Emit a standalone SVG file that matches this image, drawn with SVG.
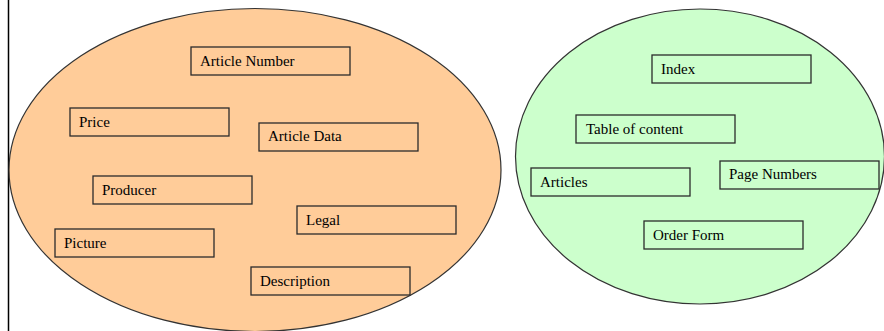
<svg xmlns="http://www.w3.org/2000/svg" width="884" height="331" viewBox="0 0 884 331">
  <style>
    .zone { stroke: #333; stroke-width: 1.2; }
    .box rect { stroke: #2b2b2b; stroke-width: 1.3; }
    .left rect { fill: #FFCC99; }
    .right rect { fill: #CCFFCC; }
  </style>
  <rect x="0" y="0" width="884" height="331" fill="#fff"/>
  <!-- page margin rule -->
  <line x1="8.5" y1="0" x2="8.5" y2="331" stroke="#000" stroke-width="1.5"/>

  <!-- content zones -->
  <ellipse id="article-zone" class="zone" cx="255" cy="170" rx="246" ry="161.5" fill="#FFCC99"/>
  <ellipse id="catalog-zone" class="zone" cx="700" cy="156.5" rx="184.5" ry="147.5" fill="#CCFFCC"/>

  <g id="connectors"></g>

  <g class="left">
    <g id="article-number" class="box"><rect x="191" y="47" width="159" height="28"/><text x="200" y="65.5" font-family="Liberation Serif" font-size="15">Article Number</text></g>
    <g id="price" class="box"><rect x="70" y="108" width="159" height="28"/><text x="79" y="126.5" font-family="Liberation Serif" font-size="15">Price</text></g>
    <g id="article-data" class="box"><rect x="259" y="123" width="159" height="28"/><text x="268" y="141" font-family="Liberation Serif" font-size="15">Article Data</text></g>
    <g id="producer" class="box"><rect x="93" y="176" width="159" height="28"/><text x="102" y="194.5" font-family="Liberation Serif" font-size="15">Producer</text></g>
    <g id="legal" class="box"><rect x="297" y="206" width="159" height="28"/><text x="306" y="224.5" font-family="Liberation Serif" font-size="15">Legal</text></g>
    <g id="picture" class="box"><rect x="55" y="229" width="159" height="28"/><text x="64" y="247.5" font-family="Liberation Serif" font-size="15">Picture</text></g>
    <g id="description" class="box"><rect x="251" y="267" width="159" height="28"/><text x="260" y="285.5" font-family="Liberation Serif" font-size="15">Description</text></g>
  </g>

  <g class="right">
    <g id="index" class="box"><rect x="652" y="55" width="159" height="28"/><text x="661" y="73.5" font-family="Liberation Serif" font-size="15">Index</text></g>
    <g id="table-of-content" class="box"><rect x="576" y="115" width="159" height="28"/><text x="586" y="133.5" font-family="Liberation Serif" font-size="15">Table of content</text></g>
    <g id="page-numbers" class="box"><rect x="720" y="161" width="159" height="28"/><text x="729" y="179" font-family="Liberation Serif" font-size="15">Page Numbers</text></g>
    <g id="articles" class="box"><rect x="531" y="168" width="159" height="28"/><text x="540" y="186.5" font-family="Liberation Serif" font-size="15">Articles</text></g>
    <g id="order-form" class="box"><rect x="644" y="221" width="159" height="28"/><text x="653" y="239.5" font-family="Liberation Serif" font-size="15">Order Form</text></g>
  </g>
</svg>
